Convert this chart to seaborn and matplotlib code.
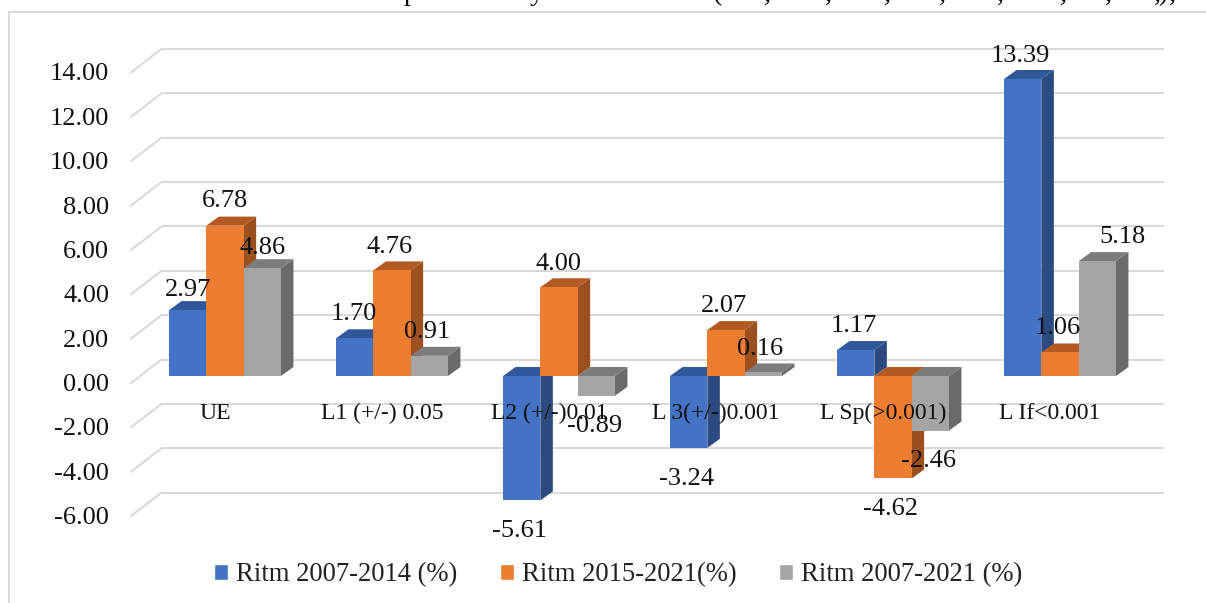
import matplotlib
matplotlib.use("Agg")
import matplotlib.pyplot as plt
import matplotlib.transforms as mt
from matplotlib.lines import Line2D
from matplotlib.patches import Polygon
import pandas as pd
import seaborn as sns

categories = ["UE", "L1 (+/-) 0.05", "L2 (+/-)0.01", "L 3(+/-)0.001", "L Sp(>0.001)", "L If<0.001"]
ritm_2007_2014 = [2.97, 1.70, -5.61, -3.24, 1.17, 13.39]
ritm_2015_2021 = [6.78, 4.76, 4.00, 2.07, -4.62, 1.06]
ritm_2007_2021 = [4.86, 0.91, -0.89, 0.16, -2.46, 5.18]
series_names = ["Ritm 2007-2014 (%)", "Ritm 2015-2021(%)", "Ritm 2007-2021 (%)"]
y_ticks = [-6, -4, -2, 0, 2, 4, 6, 8, 10, 12, 14]
# the only parts of the cropped line above the chart that the picture shows
cropped_glyphs = ["p", "y", "(", ",", ",", ",", ",", ",", ",", ",", ",", ")", ","]
cropped_x = [411, 537, 717, 767, 828, 887, 942, 1000, 1063, 1108, 1157, 1163, 1172]

front_colors = ["#4472C4", "#ED7D31", "#A5A5A5"]
top_colors = ["#31579B", "#B25A22", "#7C7C7C"]
side_colors = ["#2B4A80", "#9C5020", "#6A6A6A"]
grid_color = "#D9D9D9"

W, H = 1206, 603
DPI = 100
sns.set_style("white")
plt.rcParams["font.family"] = ["Liberation Serif", "DejaVu Serif"]

df = pd.DataFrame({
    "category": categories * 3,
    "series": [s for s in series_names for _ in categories],
    "value": ritm_2007_2014 + ritm_2015_2021 + ritm_2007_2021,
})

fig = plt.figure(figsize=(W / DPI, H / DPI), dpi=DPI)
# pixel layout of the front plane of the bars
left, right, zero_px, ppu = 141.5, 1143.5, 376.0, 22.18
top_px = zero_px - 14 * ppu
bot_px = zero_px + 6 * ppu
ax = fig.add_axes([left / W, 1 - bot_px / H, (right - left) / W, (bot_px - top_px) / H])

sns.barplot(data=df, x="category", y="value", hue="series", order=categories,
            hue_order=series_names, palette=front_colors, width=0.67, gap=0,
            saturation=1, errorbar=None, ax=ax, legend=True)
ax.set_xlim(-0.5, 5.5)
ax.set_ylim(-6, 14)
ax.set_xlabel("")
ax.set_ylabel("")
for s in ax.spines.values():
    s.set_visible(False)
ax.spines["bottom"].set_position(("data", 0))
ax.patch.set_alpha(0)

px = 72 / DPI
lw_px = 2.0 * px


def shifted(dx_px, dy_px):
    return ax.transData + mt.Affine2D().translate(dx_px, dy_px)


# back wall lines and the floor diagonals that lead to them
for v in y_ticks:
    ax.plot([-0.5, 5.5], [v, v], color=grid_color, lw=lw_px, transform=shifted(20, 16.5),
            zorder=1, clip_on=False, solid_capstyle="butt")
    p0 = shifted(-10.5, -7).transform((-0.5, v))
    p1 = shifted(20, 16.5).transform((-0.5, v))
    fig.add_artist(Line2D([p0[0] / W, p1[0] / W], [p0[1] / H, p1[1] / H], color=grid_color,
                          lw=lw_px, transform=fig.transFigure, zorder=1))

ax.set_yticks(y_ticks)
ax.set_yticklabels([f"{v:.2f}" for v in y_ticks], fontsize=19, color="#111111")
ax.tick_params(axis="y", length=0, pad=32.5 * px)
ax.tick_params(axis="x", length=0, pad=27 * px, labelsize=17, labelcolor="#111111")
ax.xaxis.set_zorder(20)
ax.yaxis.set_zorder(20)
for t in ax.get_yticklabels():
    t.set_transform(t.get_transform() + mt.Affine2D().translate(0, -6.5))
for t in ax.get_xticklabels():
    t.set_transform(t.get_transform() + mt.Affine2D().translate(-10, 0))

# depth of the bars, converted to data units
dx = 12.5 / ((right - left) / 6)
dy = 9.0 / ppu
values = [ritm_2007_2014, ritm_2015_2021, ritm_2007_2021]
for j, cont in enumerate(ax.containers[:3]):
    for bar in cont:
        x0, w = bar.get_x(), bar.get_width()
        y0, h = bar.get_y(), bar.get_height()
        lo, hi = min(y0, y0 + h), max(y0, y0 + h)
        z = 5 + j
        bar.set_zorder(z + 0.5)
        bar.set_clip_on(False)
        bar.set_edgecolor("none")
        ax.add_patch(Polygon([(x0, hi), (x0 + w, hi), (x0 + w + dx, hi + dy), (x0 + dx, hi + dy)],
                             closed=True, fc=top_colors[j], ec="none", zorder=z, clip_on=False))
        ax.add_patch(Polygon([(x0 + w, lo), (x0 + w + dx, lo + dy), (x0 + w + dx, hi + dy), (x0 + w, hi)],
                             closed=True, fc=side_colors[j], ec="none", zorder=z, clip_on=False))

# data labels: pixel offset of the text centre from the bar end
label_dx = [[0, 0, 0], [-1, -2, -2], [-2, -1, -2], [-2, -2, -3], [-2, -3, -2], [-2, -2, 25]]
label_dy = [[20, 25, 20], [24, 23, 24], [-31, 23, -30], [-31, 24, 23], [24, -31, -30], [23, 24, 24]]
for j, cont in enumerate(ax.containers[:3]):
    for i, bar in enumerate(cont):
        v = values[j][i]
        ax.annotate(f"{v:.2f}", (bar.get_x() + bar.get_width() / 2, v), xycoords="data",
                    xytext=(label_dx[i][j] * px, label_dy[i][j] * px),
                    textcoords="offset points", ha="center", va="center",
                    fontsize=19, color="#111111", zorder=30, annotation_clip=False)

sns.move_legend(ax, loc="center", bbox_to_anchor=(618 / W, 1 - 575 / H),
                bbox_transform=fig.transFigure, ncol=3, frameon=False, title=None,
                fontsize=19.2, handlelength=0.54, handleheight=0.54, handletextpad=0.28,
                columnspacing=1.6, borderpad=0, labelcolor="#222222")

# cropped line at the very top edge of the picture
for g, gx in zip(cropped_glyphs, cropped_x):
    fig.text(gx / W, 1 - 0.5 / H, g, fontsize=20, ha="center", va="baseline", color="black")

# outer chart frame
fig.add_artist(Line2D([9 / W, 9 / W, 1], [0, 1 - 12 / H, 1 - 12 / H], color=grid_color, lw=lw_px,
                      transform=fig.transFigure))

fig.savefig("out.png", dpi=DPI)
